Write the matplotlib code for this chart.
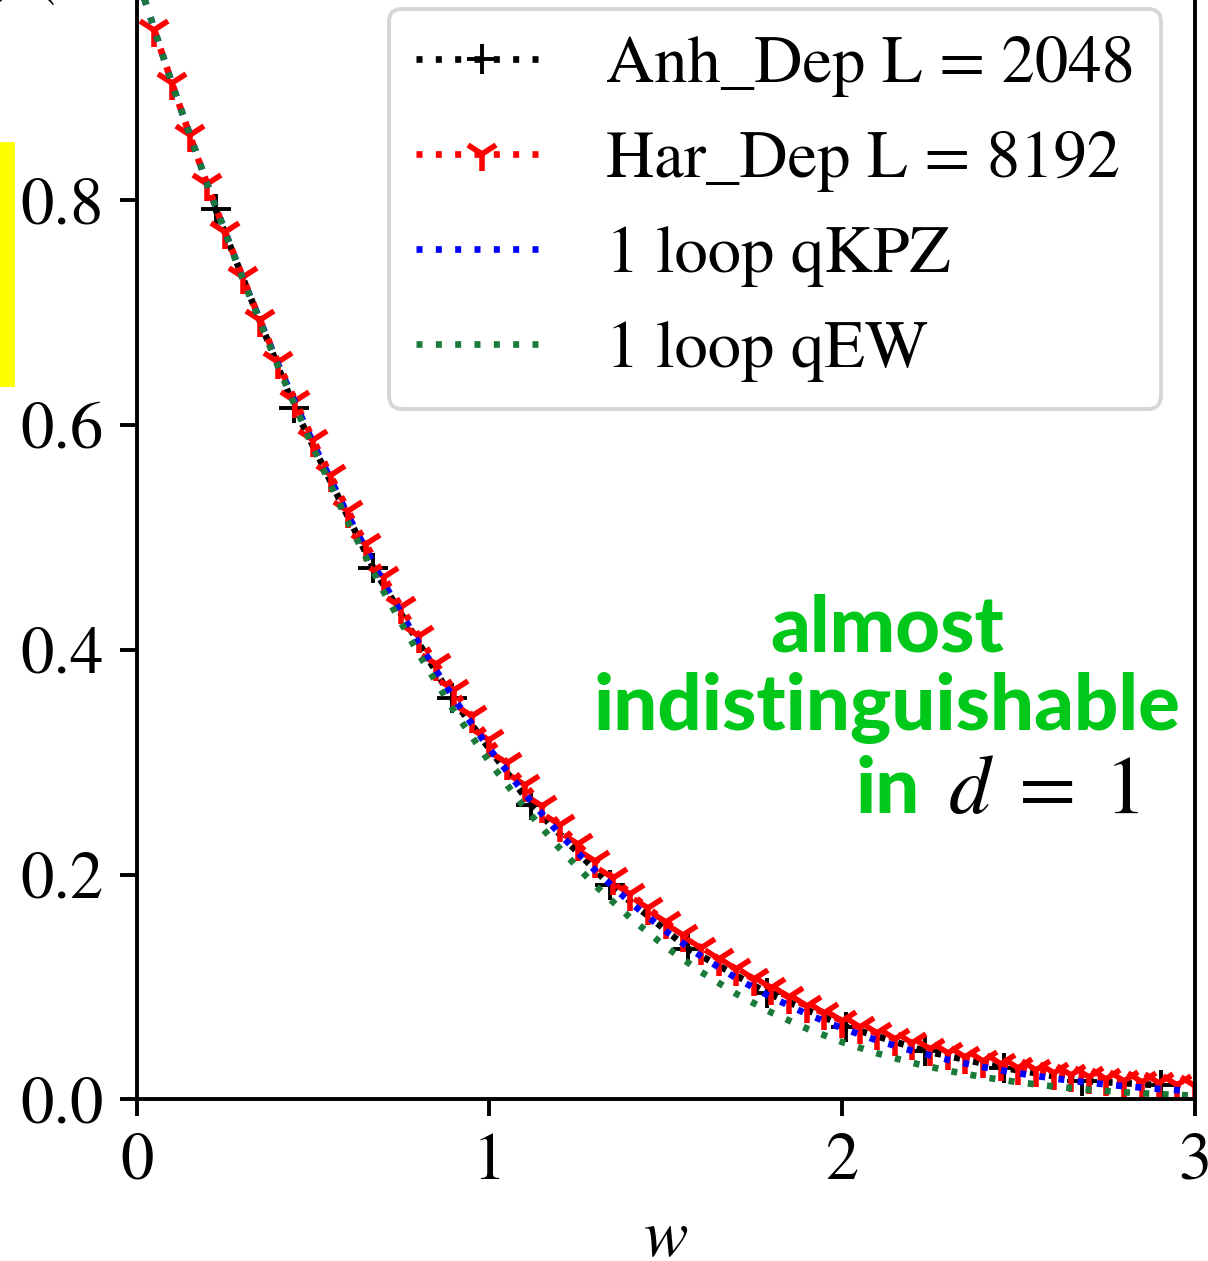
import matplotlib
matplotlib.use("Agg")
import matplotlib.pyplot as plt
from matplotlib.patches import Rectangle

plt.rcParams["font.family"] = "STIXGeneral"
plt.rcParams["mathtext.fontset"] = "stix"

# Anh_Dep, L = 2048 (binned histogram)
w_anh = [0.2235, 0.447, 0.6705, 0.894, 1.1175, 1.341, 1.5645, 1.788,
         2.0115, 2.235, 2.4585, 2.682, 2.9055]
p_anh = [0.792, 0.615, 0.473, 0.357, 0.262, 0.191, 0.134, 0.0946,
         0.0647, 0.043, 0.028, 0.0165, 0.0125]

# Har_Dep, L = 8192
w_har = [0.05, 0.10, 0.15, 0.20, 0.25, 0.30, 0.35, 0.40, 0.45, 0.50,
         0.55, 0.60, 0.65, 0.70, 0.75, 0.80, 0.85, 0.90, 0.95, 1.00,
         1.05, 1.10, 1.15, 1.20, 1.25, 1.30, 1.35, 1.40, 1.45, 1.50,
         1.55, 1.60, 1.65, 1.70, 1.75, 1.80, 1.85, 1.90, 1.95, 2.00,
         2.05, 2.10, 2.15, 2.20, 2.25, 2.30, 2.35, 2.40, 2.45, 2.50,
         2.55, 2.60, 2.65, 2.70, 2.75, 2.80, 2.85, 2.90, 2.95, 3.00]
p_har = [0.951, 0.904, 0.858, 0.814, 0.772, 0.732, 0.693, 0.656, 0.621, 0.587,
         0.555, 0.523, 0.494, 0.465, 0.438, 0.412, 0.387, 0.364, 0.341, 0.320,
         0.299, 0.280, 0.261, 0.244, 0.227, 0.212, 0.197, 0.183, 0.170, 0.158,
         0.146, 0.135, 0.125, 0.116, 0.107, 0.099, 0.091, 0.083, 0.077, 0.070,
         0.064, 0.059, 0.054, 0.050, 0.045, 0.041, 0.038, 0.034, 0.031, 0.028,
         0.026, 0.0236, 0.0216, 0.0198, 0.0182, 0.0167, 0.0154, 0.0142, 0.0131, 0.0122]

# one-loop predictions
w_th = [0.0, 0.1, 0.2, 0.3, 0.4, 0.5, 0.6, 0.7, 0.8, 0.9, 1.0,
        1.1, 1.2, 1.3, 1.4, 1.5, 1.6, 1.7, 1.8, 1.9, 2.0,
        2.1, 2.2, 2.3, 2.4, 2.5, 2.6, 2.7, 2.8, 2.9, 3.0]
p_qkpz = [1.000, 0.9036, 0.8140, 0.7310, 0.6544, 0.5839, 0.5190, 0.4597, 0.4056, 0.3564, 0.3119,
          0.2718, 0.2358, 0.2036, 0.1750, 0.1497, 0.1274, 0.1078, 0.0908, 0.0760, 0.0633,
          0.0524, 0.0431, 0.0353, 0.0287, 0.0232, 0.0186, 0.0148, 0.0117, 0.0092, 0.0072]
p_qew = [1.000, 0.9036, 0.8140, 0.7305, 0.6525, 0.5799, 0.5130, 0.4517, 0.3961, 0.3454, 0.3002,
         0.2595, 0.2230, 0.1903, 0.1613, 0.1357, 0.1134, 0.0939, 0.0772, 0.0630, 0.0510,
         0.0409, 0.0324, 0.0255, 0.0198, 0.0152, 0.0115, 0.0086, 0.0063, 0.0046, 0.0033]

DOT = (0, (0.9, 2.0))

fig = plt.figure(figsize=(6.04, 6.305), dpi=200)
ax = fig.add_axes([0.1132, 0.1282, 0.8757, 0.8914])

ax.plot(w_anh, p_anh, color="black", linestyle=DOT, lw=2.4,
        marker="+", ms=11, mew=1.4, label="Anh_Dep L = 2048")
ax.plot(w_har, p_har, color="red", linestyle=DOT, lw=2.4,
        marker="1", ms=12.5, mew=2.0, label="Har_Dep L = 8192")
ax.plot(w_th, p_qkpz, color="blue", linestyle=DOT, lw=2.4, label="1 loop qKPZ")
ax.plot(w_th, p_qew, color="#1a7a3a", linestyle=DOT, lw=2.4, label="1 loop qEW")

ax.set_xlim(0, 3)
ax.set_ylim(0, 1.0)
ax.set_xticks([0, 1, 2, 3])
ax.set_yticks([0.0, 0.2, 0.4, 0.6, 0.8])
ax.set_yticklabels(["0.0", "0.2", "0.4", "0.6", "0.8"])
ax.tick_params(labelsize=24, width=1.4, length=6, pad=6)
for s in ax.spines.values():
    s.set_linewidth(1.4)
ax.set_xlabel("$w$", fontsize=24, labelpad=6)

leg = ax.legend(loc="upper right", fontsize=24, frameon=True,
                handletextpad=0.85, borderaxespad=0.5)
leg.get_frame().set_edgecolor("#cccccc")
leg.get_frame().set_linewidth(1.4)

green = "#00c81a"
ax.text(2.128, 0.398, "almost", color=green, fontsize=28, family="Lato",
        weight="black", ha="center", va="baseline")
ax.text(2.128, 0.3285, "indistinguishable", color=green, fontsize=28,
        family="Lato", weight="black", ha="center", va="baseline")
ax.text(2.222, 0.255, "in", color=green, fontsize=28, family="Lato",
        weight="black", ha="right", va="baseline")
ax.text(2.30, 0.255, r"$d\;=\;1$", color="black", fontsize=30,
        ha="left", va="baseline")

# cut-off y label at the top-left corner
fig.text(26 / 1208, 1 + 6 / 1261, ")", rotation=90, fontsize=24,
         ha="center", va="center")

# yellow marker strip at the left edge
fig.patches.append(Rectangle((0, 1 - 385 / 1261), 13 / 1208, 242 / 1261,
                             transform=fig.transFigure, color="#ffff00"))

fig.savefig("out.png", dpi=200)
